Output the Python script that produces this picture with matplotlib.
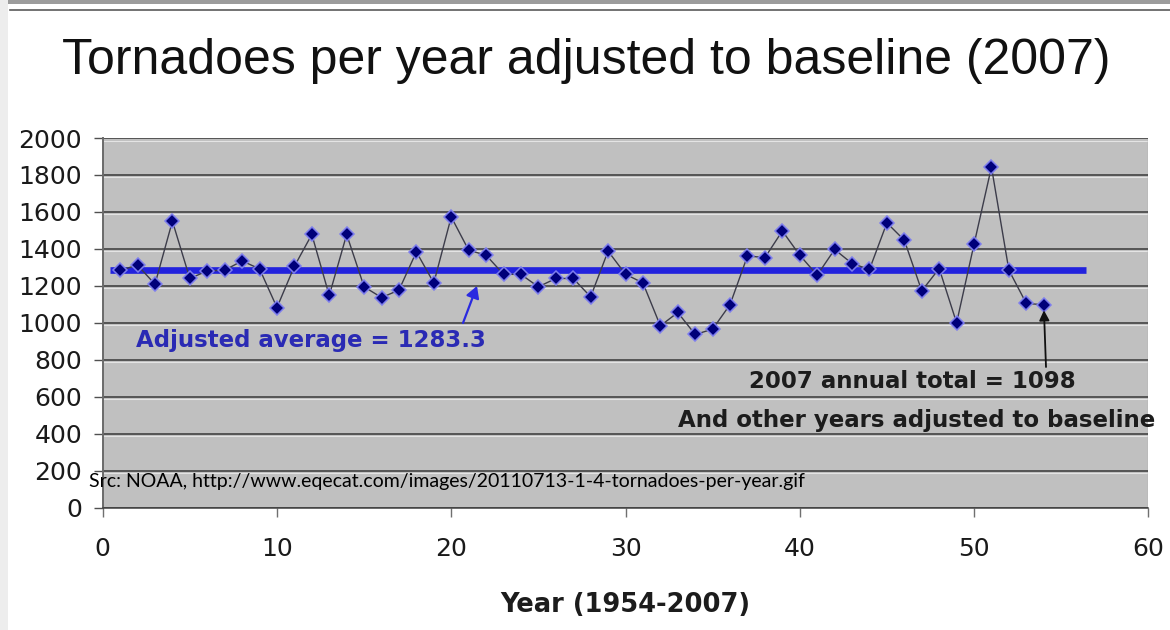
import matplotlib
matplotlib.use("Agg")
import matplotlib.pyplot as plt
import matplotlib.transforms as mtransforms
from matplotlib.patches import Rectangle
from matplotlib.lines import Line2D

# Year index (1 = 1954 ... 54 = 2007) and adjusted tornado counts
year_index = list(range(1, 55))
tornadoes = [
    1285, 1312, 1209, 1550, 1240, 1281, 1285, 1335, 1292, 1083,
    1306, 1478, 1148, 1478, 1195, 1137, 1177, 1384, 1216, 1573,
    1393, 1366, 1263, 1262, 1195, 1240, 1240, 1141, 1388, 1263,
    1216, 984, 1056, 937, 966, 1099, 1362, 1353, 1497, 1366,
    1258, 1397, 1321, 1289, 1541, 1447, 1173, 1294, 1000, 1425,
    1843, 1285, 1105, 1098,
]
adjusted_average = 1283.3
average_span = (0.4, 56.4)

x_ticks = [0, 10, 20, 30, 40, 50, 60]
y_ticks = [0, 200, 400, 600, 800, 1000, 1200, 1400, 1600, 1800, 2000]

title = "Tornadoes per year adjusted to baseline (2007)"
x_label = "Year (1954-2007)"
avg_label = f"Adjusted average = {adjusted_average}"
last_label = f"2007 annual total = {tornadoes[-1]}"
last_label2 = "And other years adjusted to baseline"
source = "Src: NOAA, http://www.eqecat.com/images/20110713-1-4-tornadoes-per-year.gif"

W, H, DPI = 1170, 630, 100
fig = plt.figure(figsize=(W / DPI, H / DPI), dpi=DPI, facecolor="white")

# window-like frame around the figure
fig.patches.append(Rectangle((0, 1 - 4 / H), 1, 4 / H, transform=fig.transFigure,
                             facecolor="#9c9c9c", edgecolor="none", zorder=0))
fig.patches.append(Rectangle((0, 0), 8 / W, 1, transform=fig.transFigure,
                             facecolor="#ededed", edgecolor="none", zorder=0))
fig.lines.append(Line2D([10 / W, 1], [1 - 9.5 / H, 1 - 9.5 / H], transform=fig.transFigure,
                        color="#5a5a5a", lw=1.2))

left, right, top, bottom = 102.7, 1148.3, 138.0, 507.7
ax = fig.add_axes([left / W, 1 - bottom / H, (right - left) / W, (bottom - top) / H])
ax.set_facecolor("#c0c0c0")
ax.set_xlim(0, 60)
ax.set_ylim(0, 2000)

# text placement helpers: figure pixel (from top-left) -> axes fraction
def fx(px):
    return (px - left) / (right - left)


def fy(py):
    return (bottom - py) / (bottom - top)


# horizontal gridlines with a light highlight just beneath each
hl_offset = mtransforms.ScaledTranslation(0, -2.5 / DPI, fig.dpi_scale_trans)
for v in y_ticks:
    ax.plot([0, 1], [v, v], color="#e4e4e4", lw=0.8, zorder=1,
            transform=ax.get_yaxis_transform() + hl_offset)
    ax.axhline(v, color="#383838", lw=1.1, zorder=1.2)

for side in ("top", "right"):
    ax.spines[side].set_visible(False)
ax.spines["left"].set_color("#6a6a6a")
ax.spines["left"].set_linewidth(1.4)
ax.spines["bottom"].set_color("#404040")
ax.spines["bottom"].set_linewidth(1.1)
ax.axvline(60, color="#a8a8a8", lw=1.0, zorder=1)

ax.set_xticks(x_ticks)
ax.set_yticks(y_ticks)
ax.set_xticklabels([str(t) for t in x_ticks])
ax.set_yticklabels([str(t) for t in y_ticks])
ax.tick_params(axis="y", direction="out", length=6.3, width=1.0, color="#505050",
               pad=8.5, labelsize=18, labelcolor="#1a1a1a")
ax.tick_params(axis="x", direction="out", length=6.3, width=1.0, color="#707070",
               pad=15, labelsize=18, labelcolor="#1a1a1a")
for lab in ax.get_xticklabels() + ax.get_yticklabels():
    lab.set_fontfamily("DejaVu Sans")

# average line
ax.hlines(adjusted_average, *average_span, color="#2222dd", lw=4.8, zorder=2,
          capstyle="butt")

# yearly series
ax.plot(year_index, tornadoes, color="#3c3c4a", lw=1.0, zorder=3,
        marker="D", markersize=7.5, markerfacecolor="#00007a",
        markeredgecolor="#7c7cee", markeredgewidth=1.1)

# labels and arrows
bold = dict(family="DejaVu Sans", fontweight="bold", fontsize=16.5)
ax.text(fx(136), fy(340), avg_label, transform=ax.transAxes, color="#2a2ab4",
        va="center", ha="left", zorder=4, **bold)
ax.annotate("", xy=(fx(477), fy(286)), xytext=(fx(463), fy(323)),
            xycoords="axes fraction", textcoords="axes fraction",
            arrowprops=dict(arrowstyle="-|>,head_length=0.7,head_width=0.4",
                            color="#2a2ae0", lw=1.6, shrinkA=0, shrinkB=0), zorder=4)

ax.annotate("", xy=(year_index[-1], tornadoes[-1]), xytext=(fx(1046), fy(367)),
            textcoords="axes fraction",
            arrowprops=dict(arrowstyle="-|>,head_length=0.6,head_width=0.3",
                            color="#101010", lw=1.3, shrinkA=0, shrinkB=4), zorder=4)
ax.text(fx(912), fy(382), last_label, transform=ax.transAxes, color="#1c1c1c",
        va="center", ha="center", zorder=4, **bold)
ax.text(fx(1155), fy(420), last_label2, transform=ax.transAxes, color="#1c1c1c",
        va="center", ha="right", zorder=4, clip_on=False, **bold)

ax.text(fx(89), fy(482), source, transform=ax.transAxes, color="black",
        va="center", ha="left", family="Lato", fontsize=14.0, zorder=5, clip_on=False)

fig.text(586.5 / W, 1 - 74 / H, title, ha="center", va="baseline",
         family="Liberation Sans", fontsize=36, color="#111111")

ax.set_xlabel(x_label, family="DejaVu Sans", fontweight="bold", fontsize=18.5, color="#1c1c1c")
ax.xaxis.set_label_coords(0.5, fy(605))
ax.xaxis.label.set_va("center")

fig.savefig("out.png", dpi=DPI, facecolor="white")
